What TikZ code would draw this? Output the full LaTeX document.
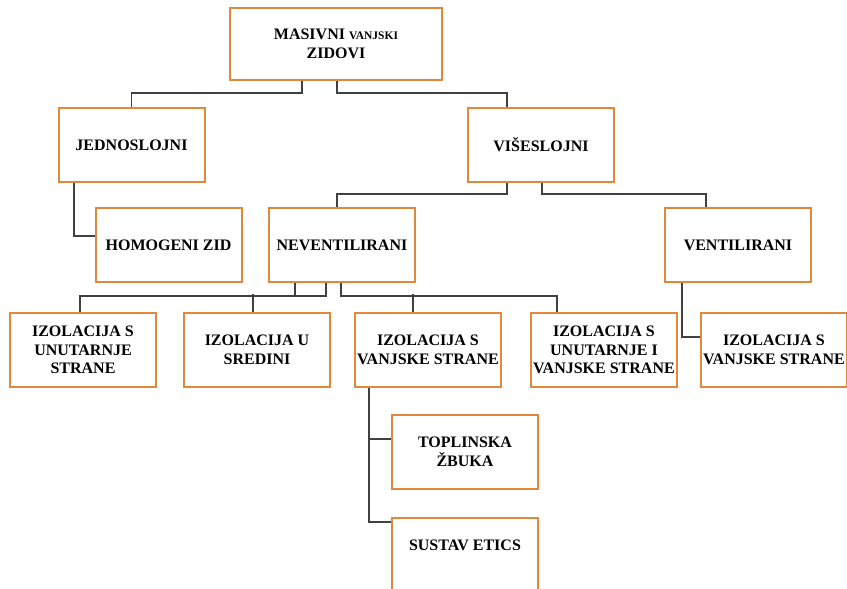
\documentclass[tikz,border=0pt]{standalone}
\usepackage{fontspec}
\setmainfont{Liberation Serif}
\definecolor{boxorange}{RGB}{226,136,60}
\definecolor{linegray}{RGB}{64,64,64}
\tikzset{
  box/.style={draw=boxorange,line width=2pt,fill=white,align=center,
    minimum width=146pt,minimum height=74pt,inner sep=2pt,
    font=\bfseries\fontsize{16}{18.7}\selectfont},
  conn/.style={draw=linegray,line width=1.7pt}
}
\begin{document}
\begin{tikzpicture}[x=1pt,y=-1pt]
  \useasboundingbox (0,0) rectangle (847,589);
  \clip (0,0) rectangle (847,589);
  % levels
  \node[box,minimum width=212pt,minimum height=72pt] (top) at (336,44)
    {MASIVNI {\fontsize{11.5}{13}\selectfont VANJSKI}\\ZIDOVI};
  \node[box] (jedno) at (131.5,145) {JEDNOSLOJNI};
  \node[box] (vise) at (541,145) {VIŠESLOJNI};
  \node[box] (homog) at (168.5,245) {HOMOGENI ZID};
  \node[box] (neven) at (342,245) {NEVENTILIRANI};
  \node[box] (venti) at (738,245) {VENTILIRANI};
  \node[box] (izA) at (83,350) {IZOLACIJA S\\UNUTARNJE\\STRANE};
  \node[box] (izB) at (257,350) {IZOLACIJA U\\SREDINI};
  \node[box] (izC) at (428,350) {IZOLACIJA S\\VANJSKE STRANE};
  \node[box] (izD) at (604,350) {IZOLACIJA S\\UNUTARNJE I\\VANJSKE STRANE};
  \node[box] (izE) at (774,350) {IZOLACIJA S\\VANJSKE STRANE};
  \node[box] (topl) at (465,452) {TOPLINSKA\\ŽBUKA};
  \node[box] (etics) at (465,555) {SUSTAV ETICS\\\mbox{}};
  % connectors
  \draw[conn] ([xshift=-34pt]top.south) -- ++(0,12) -| (jedno.north);
  \draw[conn] ([xshift=1pt]top.south) -- ++(0,12) -| ([xshift=-34pt]vise.north);
  \draw[conn] ([xshift=-57.5pt]jedno.south) |- ([yshift=9pt]homog.west);
  \draw[conn] ([xshift=-34pt]vise.south) -- ++(0,11) -| ([xshift=-5pt]neven.north);
  \draw[conn] ([xshift=1pt]vise.south) -- ++(0,11) -| ([xshift=-32pt]venti.north);
  \draw[conn] ([xshift=-16pt]neven.south) -- ++(0,13) -| ([xshift=-3pt]izA.north);
  \draw[conn] ([xshift=-47pt]neven.south) -- ++(0,13);
  \draw[conn] ([xshift=-4pt]izB.north) -- ++(0,-18);
  \draw[conn] ([xshift=-1pt]neven.south) -- ++(0,13) -| ([xshift=-47pt]izD.north);
  \draw[conn] ([xshift=-15pt]izC.north) -- ++(0,-18);
  \draw[conn] ([xshift=-56pt]venti.south) |- ([yshift=13pt]izE.west);
  \draw[conn] ([xshift=-59pt]izC.south) |- ([yshift=13pt]topl.west);
  \draw[conn] ([xshift=-59pt]izC.south) |- ([yshift=-5pt]etics.north west);
\end{tikzpicture}
\end{document}
